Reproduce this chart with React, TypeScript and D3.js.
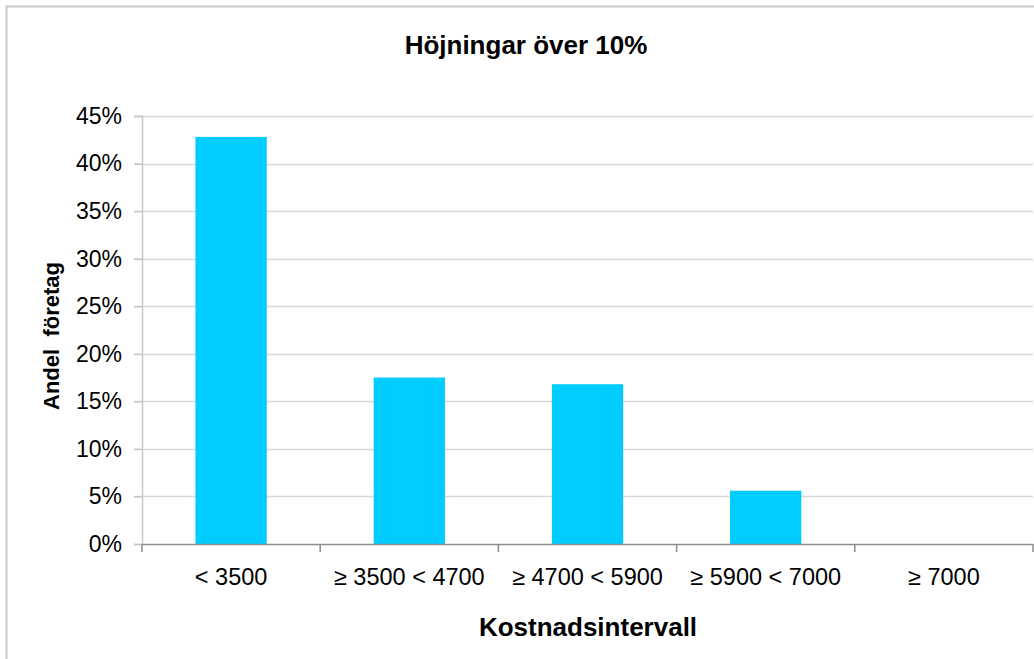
import React, { useEffect, useRef } from "react";
import * as d3 from "d3";

const categories = ["< 3500", "≥ 3500 < 4700", "≥ 4700 < 5900", "≥ 5900 < 7000", "≥ 7000"];
const shares = [0.428, 0.175, 0.168, 0.056, 0];
const yTicks = [0, 0.05, 0.1, 0.15, 0.2, 0.25, 0.3, 0.35, 0.4, 0.45];
const title = "Höjningar över 10%";
const xTitle = "Kostnadsintervall";
const yTitle = "Andel  företag";

const App = () => {
  const svgRef = useRef<SVGSVGElement>(null);

  useEffect(() => {
    const svg = d3.select(svgRef.current);
    svg.selectAll("*").remove();

    const width = 1034;
    const height = 659;
    const margin = { top: 116, right: 1, bottom: 115, left: 142 };
    const font = "'Liberation Sans', Arial, sans-serif";

    svg.attr("width", width).attr("height", height).attr("viewBox", [0, 0, width, height]);

    svg
      .append("rect")
      .attr("x", 6.5)
      .attr("y", 6.5)
      .attr("width", width + 10)
      .attr("height", height + 10)
      .attr("fill", "#fff")
      .attr("stroke", "#c8c8c8")
      .attr("stroke-width", 2);

    const x = d3
      .scaleBand()
      .domain(categories)
      .range([margin.left, width - margin.right]);

    const y = d3
      .scaleLinear()
      .domain([0, 0.45])
      .range([height - margin.bottom, margin.top]);

    // gridlines
    svg
      .append("g")
      .selectAll("line")
      .data(yTicks.filter((d) => d > 0))
      .join("line")
      .attr("x1", margin.left - 8)
      .attr("x2", width - margin.right)
      .attr("y1", (d) => Math.round(y(d)) + 0.5)
      .attr("y2", (d) => Math.round(y(d)) + 0.5)
      .attr("stroke", "#d8d8d8")
      .attr("stroke-width", 1.5);

    // bars
    const barW = x.bandwidth() * 0.4;
    svg
      .append("g")
      .selectAll("rect")
      .data(shares)
      .join("rect")
      .attr("x", (d, i) => x(categories[i])! + (x.bandwidth() - barW) / 2)
      .attr("y", (d) => y(d))
      .attr("width", barW)
      .attr("height", (d) => y(0) - y(d))
      .attr("fill", "#00ccff");

    // y axis
    const yAxis = svg
      .append("g")
      .attr("transform", `translate(${margin.left},0)`)
      .call(
        d3
          .axisLeft(y)
          .tickValues(yTicks)
          .tickSize(8)
          .tickPadding(12)
          .tickFormat((d) => `${Math.round(+d * 100)}%`)
      );
    yAxis.select(".domain").attr("stroke", "#c8c8c8").attr("stroke-width", 1.5);
    yAxis.selectAll(".tick line").attr("stroke", "#c8c8c8").attr("stroke-width", 1.5);
    yAxis
      .selectAll(".tick text")
      .attr("font-family", font)
      .attr("font-size", 23)
      .attr("fill", "#000");

    // x axis
    const xAxis = svg
      .append("g")
      .attr("transform", `translate(0,${height - margin.bottom})`)
      .call(d3.axisBottom(x).tickSize(0).tickPadding(24));
    xAxis.select(".domain").attr("stroke", "#8c8c8c").attr("stroke-width", 1.5);
    xAxis
      .selectAll(".tick text")
      .attr("font-family", font)
      .attr("font-size", 23.5)
      .attr("fill", "#000");

    // category separators
    svg
      .append("g")
      .selectAll("line")
      .data([...categories.map((c) => x(c)!), width - margin.right])
      .join("line")
      .attr("x1", (d) => d)
      .attr("x2", (d) => d)
      .attr("y1", y(0))
      .attr("y2", y(0) + 8)
      .attr("stroke", "#8c8c8c")
      .attr("stroke-width", 1.5);

    // titles
    svg
      .append("text")
      .attr("x", 526)
      .attr("y", 45)
      .attr("dy", "0.35em")
      .attr("text-anchor", "middle")
      .attr("font-family", font)
      .attr("font-weight", "bold")
      .attr("font-size", 26)
      .text(title);

    svg
      .append("text")
      .attr("x", 588)
      .attr("y", 627)
      .attr("dy", "0.35em")
      .attr("text-anchor", "middle")
      .attr("font-family", font)
      .attr("font-weight", "bold")
      .attr("font-size", 26)
      .text(xTitle);

    svg
      .append("text")
      .attr("transform", "translate(51,336) rotate(-90)")
      .attr("dy", "0.35em")
      .attr("text-anchor", "middle")
      .attr("font-family", font)
      .attr("font-weight", "bold")
      .attr("font-size", 22)
      .attr("xml:space", "preserve")
      .style("white-space", "pre")
      .text(yTitle);
  }, []);

  return (
    <div style={{ position: "absolute", left: 0, top: 0 }}>
      <svg ref={svgRef} style={{ display: "block" }}></svg>
    </div>
  );
};

export default App;
